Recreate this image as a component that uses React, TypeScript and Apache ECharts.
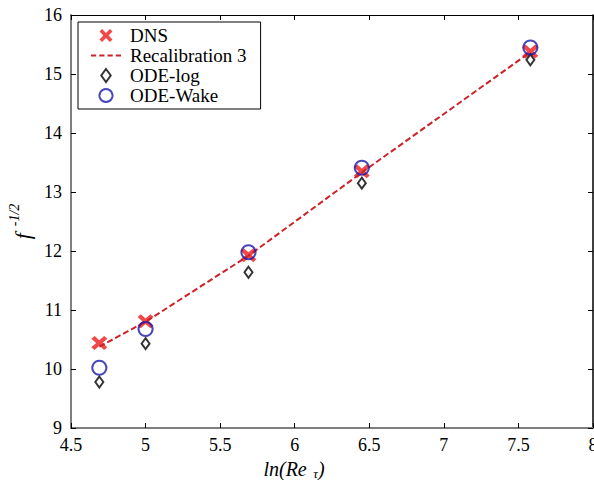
import React, { useEffect, useRef } from "react";
import * as echarts from "echarts";

const lnRe = [4.69, 5.0, 5.69, 6.45, 7.58];
const dns = [10.44, 10.81, 11.93, 13.35, 15.38];
const recal = [10.38, 10.8, 11.92, 13.33, 15.37];
const odeLog = [9.78, 10.43, 11.64, 13.15, 15.24];
const odeWake = [10.02, 10.68, 11.98, 13.41, 15.45];

const serif = "Times New Roman";
const xSym = "path://M2,0 L5,3 L8,0 L10,2 L7,5 L10,8 L8,10 L5,7 L2,10 L0,8 L3,5 L0,2 Z";
const diamondSym = "path://M4,0 L8,5.5 L4,11 L0,5.5 Z";
const circleSym = "path://M6,0 A6,6 0 1,1 5.99,0 Z";
const dashIcon = "path://M0,0h5v2h-5z M8,0h5v2h-5z M16,0h5v2h-5z M24,0h5v2h-5z";

export default function App() {
  const ref = useRef<HTMLDivElement>(null);
  useEffect(() => {
    if (!ref.current) return;
    const chart = echarts.init(ref.current, undefined, { renderer: "svg" });
    const pairs = (ys: number[]) => lnRe.map((x, i) => [x, ys[i]]);
    chart.setOption({
      animation: false,
      backgroundColor: "#fff",
      textStyle: { fontFamily: serif },
      grid: { left: 71, right: 1, top: 15, bottom: 52, outerBoundsMode: "none", containLabel: false },
      legend: {
        orient: "vertical",
        left: 78,
        top: 22,
        padding: [4, 14, 4, 13],
        itemWidth: 30,
        itemHeight: 13,
        itemGap: 1,
        borderColor: "#000",
        borderWidth: 1,
        backgroundColor: "#fff",
        textStyle: { fontFamily: serif, fontSize: 19, color: "#000", padding: [0, 0, 0, 4] },
        data: [
          { name: "DNS", icon: xSym },
          { name: "Recalibration 3", icon: dashIcon, itemStyle: { color: "#cc2228" } },
          { name: "ODE-log", icon: diamondSym },
          { name: "ODE-Wake", icon: circleSym },
        ],
      },
      xAxis: [
        {
          type: "value",
          min: 4.5,
          max: 8,
          interval: 0.5,
          name: "{a|ln(Re}{sub|  τ}{a|)}",
          nameLocation: "middle",
          nameGap: 20,
          nameTextStyle: {
            padding: [0, 76, 0, 0],
            rich: {
              a: { fontFamily: serif, fontStyle: "italic", fontSize: 20, color: "#000" },
              sub: { fontFamily: serif, fontStyle: "italic", fontSize: 13, color: "#000", padding: [9, 0, 0, 0] },
            },
          },
          axisLine: { lineStyle: { color: "#7f7f7f", width: 2 } },
          axisTick: { inside: true, length: 5, lineStyle: { color: "#000" } },
          axisLabel: { fontFamily: serif, fontSize: 18, color: "#000", margin: 8 },
          splitLine: { show: false },
        },
        {
          type: "value",
          position: "top",
          min: 4.5,
          max: 8,
          interval: 0.5,
          axisLine: { show: true, lineStyle: { color: "#000", width: 1 } },
          axisTick: { inside: true, length: 5, lineStyle: { color: "#000" } },
          axisLabel: { show: false },
          splitLine: { show: false },
        },
      ],
      yAxis: [
        {
          type: "value",
          min: 9,
          max: 16,
          interval: 1,
          name: "{f|f}{sup|  -1/2}",
          nameLocation: "middle",
          nameGap: 30,
          nameRotate: 90,
          nameTextStyle: {
            rich: {
              f: { fontFamily: serif, fontStyle: "italic", fontSize: 22, color: "#000" },
              sup: { fontFamily: serif, fontStyle: "italic", fontSize: 14, color: "#000", padding: [0, 0, 16, 0] },
            },
          },
          axisLine: { show: true, lineStyle: { color: "#7f7f7f", width: 2 } },
          axisTick: { show: true, inside: true, length: 5, lineStyle: { color: "#000" } },
          axisLabel: { fontFamily: serif, fontSize: 18, color: "#000", margin: 9 },
          splitLine: { show: false },
        },
        {
          type: "value",
          position: "right",
          min: 9,
          max: 16,
          interval: 1,
          axisLine: { show: true, lineStyle: { color: "#000", width: 1.5 } },
          axisTick: { show: true, inside: true, length: 5, lineStyle: { color: "#000" } },
          axisLabel: { show: false },
          splitLine: { show: false },
        },
      ],
      series: [
        {
          name: "DNS",
          type: "scatter",
          symbol: xSym,
          symbolSize: [16, 14],
          itemStyle: { color: "#ee1c1c" },
          data: pairs(dns),
          z: 3,
        },
        {
          name: "Recalibration 3",
          type: "line",
          symbol: "none",
          lineStyle: { color: "#cc2228", width: 2, type: [6, 3] },
          itemStyle: { color: "#cc2228" },
          data: pairs(recal),
          z: 4,
        },
        {
          name: "ODE-log",
          type: "scatter",
          symbol: diamondSym,
          symbolSize: [8, 11],
          itemStyle: { color: "#fff", borderColor: "#000", borderWidth: 2 },
          data: pairs(odeLog),
          z: 5,
        },
        {
          name: "ODE-Wake",
          type: "scatter",
          symbol: circleSym,
          symbolSize: 14,
          itemStyle: { color: "rgba(255,255,255,0)", borderColor: "#1a1aaa", borderWidth: 2 },
          data: pairs(odeWake),
          z: 6,
        },
      ],
    });
    return () => chart.dispose();
  }, []);
  return <div ref={ref} style={{ width: 594, height: 480, position: "absolute", left: 0, top: 0 }} />;
}
